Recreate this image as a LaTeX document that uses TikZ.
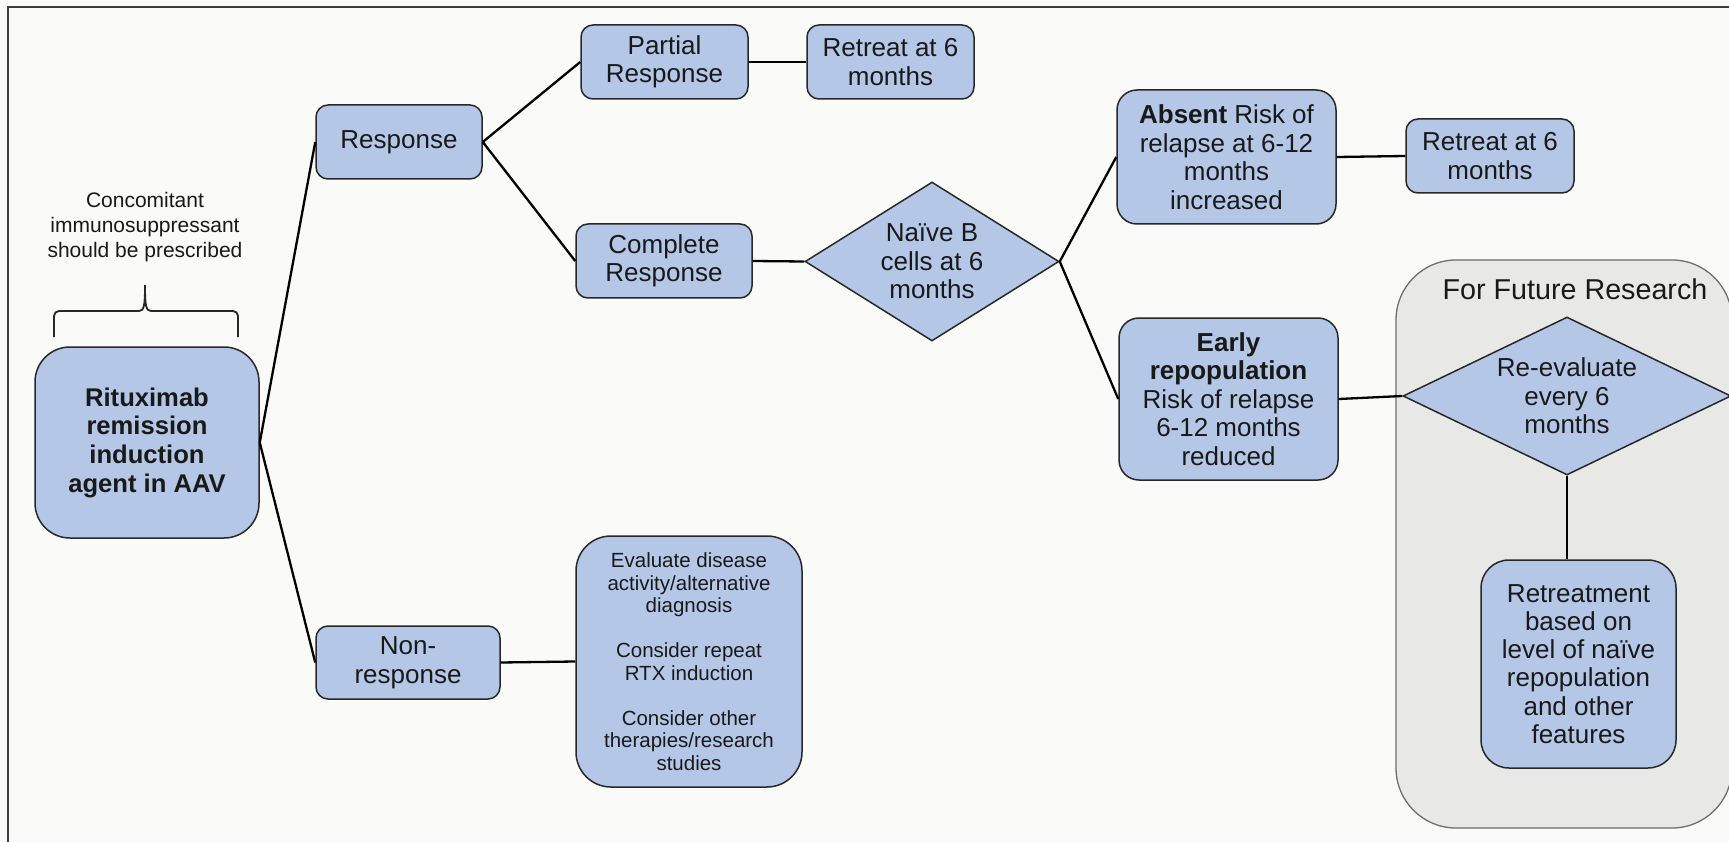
\documentclass[tikz,border=0pt]{standalone}
\usepackage{fontspec}
\setmainfont{Liberation Sans}
\usetikzlibrary{shapes.geometric}
\definecolor{boxblue}{RGB}{180,199,231}
\definecolor{bord}{RGB}{40,40,40}
\definecolor{bgcol}{RGB}{250,250,248}
\definecolor{contfill}{RGB}{232,233,230}
\definecolor{contbord}{RGB}{110,110,110}
\definecolor{framecol}{RGB}{60,60,60}
\definecolor{txt}{RGB}{25,25,25}
\begin{document}
\begin{tikzpicture}[x=1pt,y=-1pt,
 box/.style={draw=bord, line width=1.5pt, fill=boxblue, rounded corners=12pt, inner sep=0pt, align=center, text=txt, font=\fontsize{26}{28.5}\selectfont},
 dia/.style={draw=bord, line width=1.5pt, fill=boxblue, diamond, inner sep=0pt, align=center, text=txt, font=\fontsize{26}{28.5}\selectfont},
 conn/.style={draw=black, line width=2.3pt},
 plain/.style={inner sep=0pt, align=center, text=txt},
]
\fill[bgcol] (0,0) rectangle (1729,842);
\useasboundingbox (0,0) rectangle (1729,842);
\draw[framecol, line width=2pt] (1729,7) -- (8,7) -- (8,842);

% container
\node[draw=contbord, line width=1.3pt, fill=contfill, rounded corners=60pt, minimum width=336pt, minimum height=568pt, inner sep=0pt] (cont) at (1564,544) {};
\node[plain, font=\fontsize{28.7}{32}\selectfont] (contlabel) at (1575,289) {For Future Research};

% nodes
\node[box, rounded corners=35pt, minimum width=224pt, minimum height=191pt, font=\bfseries\fontsize{25.6}{28.7}\selectfont] (rit) at (147,442.5) {Rituximab\\remission\\induction\\agent in AAV};
\node[plain, font=\fontsize{21}{25}\selectfont] (conc) at (145,227) {Concomitant\\immunosuppressant\\should be prescribed};
\node[box, minimum width=166pt, minimum height=74pt] (resp) at (399,142) {Response};
\node[box, minimum width=167pt, minimum height=74pt] (partial) at (664.5,62) {Partial\\Response};
\node[box, minimum width=167pt, minimum height=74pt] (ret1) at (890.5,62) {Retreat at 6\\months};
\node[box, minimum width=176pt, minimum height=74pt] (complete) at (664,261) {Complete\\Response};
\node[dia, aspect=1.6, minimum width=254pt, minimum height=159pt] (naive) at (932,261.5) {Naïve B\\cells at 6\\months};
\node[box, rounded corners=20pt, minimum width=219pt, minimum height=134pt] (absent) at (1226.5,157) {\textbf{Absent} Risk of\\relapse at 6-12\\months\\increased};
\node[box, minimum width=168pt, minimum height=74pt] (ret2) at (1490,156) {Retreat at 6\\months};
\node[box, rounded corners=20pt, minimum width=219pt, minimum height=162pt] (early) at (1228.5,399) {\textbf{Early}\\\textbf{repopulation}\\Risk of relapse\\6-12 months\\reduced};
\node[dia, aspect=2.07, minimum width=328pt, minimum height=158pt] (reeval) at (1567,396) {Re-evaluate\\every 6\\months};
\node[box, rounded corners=28pt, minimum width=195pt, minimum height=208pt, font=\fontsize{26}{28.3}\selectfont] (retreat) at (1578.5,664) {Retreatment\\based on\\level of naïve\\repopulation\\and other\\features};
\node[box, minimum width=184pt, minimum height=73pt] (nonresp) at (408,662.5) {Non-\\response};
\node[box, rounded corners=35pt, minimum width=226pt, minimum height=251pt, font=\fontsize{20.5}{22.5}\selectfont] (eval) at (689,661.5) {Evaluate disease\\activity/alternative\\diagnosis\\[22.5pt]Consider repeat\\RTX induction\\[22.5pt]Consider other\\therapies/research\\studies};

% brace
\draw[bord, line width=1.8pt, rounded corners=5pt] (54,337) -- (54,311) -- (139,311);
\draw[bord, line width=1.8pt] (139,311) .. controls (144,311) and (145,306) .. (145,285) .. controls (145,306) and (146,311) .. (151,311);
\draw[bord, line width=1.8pt, rounded corners=5pt] (151,311) -- (238,311) -- (238,337);

% connectors
\draw[conn] (rit.east) -- (resp.west);
\draw[conn] (rit.east) -- (nonresp.west);
\draw[conn] (resp.east) -- (partial.west);
\draw[conn] (resp.east) -- (complete.west);
\draw[conn] (partial.east) -- (ret1.west);
\draw[conn] (complete.east) -- (naive.west);
\draw[conn] (naive.east) -- (absent.west);
\draw[conn] (naive.east) -- (early.west);
\draw[conn] (absent.east) -- (ret2.west);
\draw[conn] (early.east) -- (reeval.west);
\draw[conn] (reeval.south) -- (reeval.south |- retreat.north);
\draw[conn] (nonresp.east) -- (eval.west);
\end{tikzpicture}
\end{document}
